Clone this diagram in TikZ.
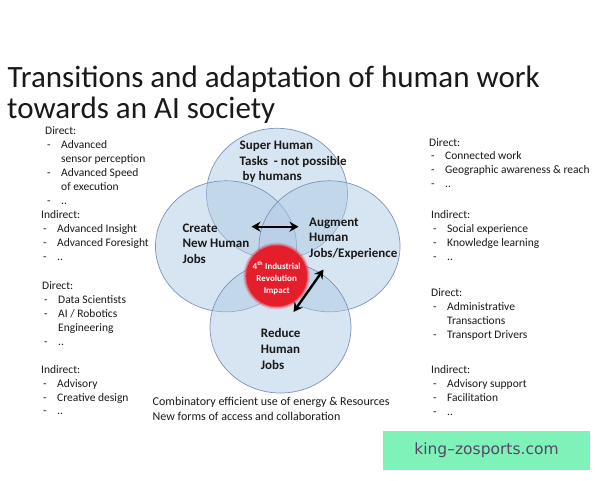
\documentclass[tikz,border=0pt]{standalone}
\usepackage{fontspec}
\setmainfont{Carlito}
\newfontfamily\wmfont{DejaVu Sans}
\usetikzlibrary{shapes.geometric,arrows.meta}
\definecolor{venfill}{RGB}{176,203,230}
\definecolor{venline}{RGB}{125,148,185}
\definecolor{impred}{RGB}{228,30,42}
\definecolor{wmgreen}{RGB}{126,242,185}
\definecolor{wmtext}{RGB}{85,72,100}
\definecolor{txt}{RGB}{25,25,25}
\newcommand\D{\makebox[16pt][l]{\hspace{2pt}-}}
\newcommand\I{\hspace*{16pt}}
\newcommand\ls[1]{\begin{tabular}[t]{@{}l@{}}#1\end{tabular}}
\newcommand\cs[1]{\begin{tabular}[t]{@{}c@{}}#1\end{tabular}}
\begin{document}
\begin{tikzpicture}[x=1pt,y=-1pt,
  venn/.style={ellipse, draw=venline, line width=0.7pt, fill=venfill, fill opacity=0.5,
    minimum width=141pt, minimum height=131pt, inner sep=0pt},
  lbl/.style={anchor=base west, inner sep=0pt, text=txt, font=\fontsize{13}{15.6}\selectfont\bfseries},
  side/.style={anchor=base west, inner sep=0pt, text=txt, font=\fontsize{11.5}{14}\selectfont},
  dbl/.style={{Stealth[length=9pt,width=10pt]}-{Stealth[length=9pt,width=10pt]}, line width=2.4pt, black}]
\fill[white] (0,0) rectangle (600,480);
\path[use as bounding box] (0,0) rectangle (600,480);

% title
\node[anchor=base west, inner sep=0pt, text=txt, font=\fontsize{31}{31}\selectfont] (title1) at (7.5,87) {Transitions and adaptation of human work};
\node[anchor=base west, inner sep=0pt, text=txt, font=\fontsize{31}{31}\selectfont] (title2) at (7,118) {towards an AI society};

% venn
\node[venn] (super) at (277,193.8) {};
\node[venn] (create) at (226,246.3) {};
\node[venn] (augment) at (329.5,246.3) {};
\node[venn] (reduce) at (280.5,327.5) {};

% impact circle
\node[circle, minimum size=64pt, inner sep=0pt] (impact) at (276.7,276) {};
\foreach \r/\o in {33.5/0.15,32.5/0.25,31.5/0.4}{
  \fill[impred,opacity=\o] (impact.center) circle[radius=\r pt];
}
\fill[impred] (impact.center) circle[radius=30.5pt];

% arrows
\coordinate (h1) at (251.5,226.7);
\coordinate (h2) at (298.5,226.7);
\coordinate (d1) at (293.5,312);
\coordinate (d2) at (323.5,269.5);
\draw[dbl] (h1) -- (h2);
\draw[dbl] (d1) -- (d2);

% venn labels
\node[lbl] (tsuper) at (239.5,149.5) {\ls{Super Human\\Tasks\ \ - not possible\\\ by humans}};
\node[lbl] (tcreate) at (182.3,232) {\ls{Create\\New Human\\Jobs}};
\node[lbl] (taugment) at (309,226) {\ls{Augment\\Human\\Jobs/Experience}};
\node[lbl] (treduce) at (260.7,337.8) {\ls{Reduce\\Human\\Jobs}};
\node[anchor=base, inner sep=0pt, text=white, font=\fontsize{9}{12.2}\selectfont\bfseries] (timpact) at (276.7,269)
  {\cs{4\textsuperscript{th} Industrial\\Revolution\\Impact}};

% left lists
\node[side] (ltd) at (45,134) {\ls{Direct:\\\D Advanced\\\I sensor perception\\\D Advanced Speed\\\I of execution\\\D ..}};
\node[side, font=\fontsize{11.5}{14.3}\selectfont] (lti) at (41,218) {\ls{Indirect:\\\D Advanced Insight\\\D Advanced Foresight\\\D ..}};
\node[side] (lbd) at (42,289) {\ls{Direct:\\\D Data Scientists\\\D AI / Robotics\\\I Engineering\\\D ..}};
\node[side, font=\fontsize{11.5}{13.8}\selectfont] (lbi) at (41,373.5) {\ls{Indirect:\\\D Advisory\\\D Creative design\\\D ..}};

% right lists
\node[side, font=\fontsize{11.5}{13.7}\selectfont] (rtd) at (429,146) {\ls{Direct:\\\D Connected work\\\D Geographic awareness \& reach\\\D ..}};
\node[side, font=\fontsize{11.5}{14.3}\selectfont] (rti) at (431,218) {\ls{Indirect:\\\D Social experience\\\D Knowledge learning\\\D ..}};
\node[side] (rbd) at (431,296) {\ls{Direct:\\\D Administrative\\\I Transactions\\\D Transport Drivers}};
\node[side] (rbi) at (431,373) {\ls{Indirect:\\\D Advisory support\\\D Facilitation\\\D ..}};

% bottom text
\node[anchor=base west, inner sep=0pt, text=txt, font=\fontsize{12}{15.2}\selectfont] (bottom) at (152.5,405.7)
  {\ls{Combinatory efficient use of energy \& Resources\\New forms of access and collaboration}};

% watermark
\node[fill=wmgreen, minimum width=207pt, minimum height=39pt, inner sep=0pt, text=wmtext,
  font=\wmfont\fontsize{15.5}{18}\selectfont] (wm) at (486.5,450.5) {king–zosports.com};
\end{tikzpicture}
\end{document}
